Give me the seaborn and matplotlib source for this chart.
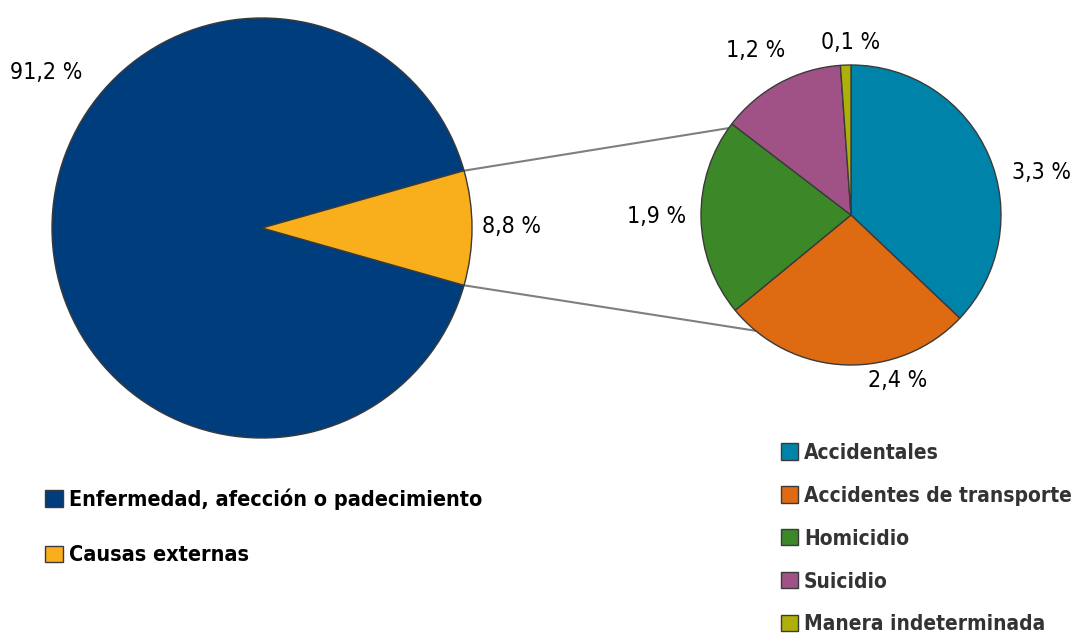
import numpy as np
import seaborn as sns
import matplotlib.pyplot as plt
from matplotlib import font_manager as fm

# datos
causas = ['Enfermedad, afección o padecimiento', 'Causas externas']
causas_valores = [91.2, 8.8]
causas_colores = ['#003D7C', '#F9AE1B']

externas = ['Accidentales', 'Accidentes de transporte', 'Homicidio', 'Suicidio', 'Manera indeterminada']
externas_valores = [3.3, 2.4, 1.9, 1.2, 0.1]
externas_colores = ['#0083A8', '#DE6A12', '#3C8728', '#A05286', '#AFAF0A']

sns.set_theme(style='white')

# buscar una fuente estrecha si la hay
estrechas = [f for f in fm.fontManager.ttflist
             if 'narrow' in f.name.lower() or 'condensed' in f.name.lower()
             or str(f.stretch).lower() in ('condensed', 'semi-condensed')]
if estrechas:
    fuente = estrechas[0].name
    estiramiento = estrechas[0].stretch
else:
    fuente = 'Roboto'
    estiramiento = 'normal'
plt.rcParams['font.family'] = [fuente, 'DejaVu Sans']
plt.rcParams['font.stretch'] = estiramiento

W, H = 1076, 633
fig = plt.figure(figsize=(W / 100, H / 100), dpi=100)
ax = fig.add_axes([0, 0, 1, 1])

edge = dict(edgecolor='#3a3a3a', linewidth=1)

# pastel principal
c1, r1 = (262, H - 228), 210
inicio1 = 360 * causas_valores[1] / 200
w1, _ = ax.pie(causas_valores, colors=causas_colores, center=c1, radius=r1,
               startangle=inicio1, counterclock=True, wedgeprops=edge, frame=True)

# pastel secundario
c2, r2 = (851, H - 215), 150
w2, _ = ax.pie(externas_valores, colors=externas_colores, center=c2, radius=r2,
               startangle=90, counterclock=False, wedgeprops=edge, frame=True)
ax.set_xlim(0, W)
ax.set_ylim(0, H)
ax.set_aspect('equal')
ax.axis('off')

# lineas de conexion
for a1, a2 in [(inicio1, 144.6), (-inicio1, 230.5)]:
    p1 = (c1[0] + r1 * np.cos(np.radians(a1)), c1[1] + r1 * np.sin(np.radians(a1)))
    p2 = (c2[0] + r2 * np.cos(np.radians(a2)), c2[1] + r2 * np.sin(np.radians(a2)))
    ax.plot([p1[0], p2[0]], [p1[1], p2[1]], color='#7f7f7f', lw=1.5, zorder=0)

# etiquetas
fmt = lambda v: f'{v:.1f}'.replace('.', ',') + ' %'
pos1 = [(46, 72), (511, 226)]
for v, (x, y) in zip(causas_valores, pos1):
    ax.text(x, H - y, fmt(v), fontsize=16.6, ha='center', va='center', color='black')
pos2 = [(1042, 173), (898, 381), (657, 217), (756, 50), (851, 42)]
for v, (x, y) in zip(externas_valores, pos2):
    ax.text(x, H - y, fmt(v), fontsize=16.6, ha='center', va='center', color='black')

# leyendas
leg1 = ax.legend(w1, causas, loc='upper left', bbox_to_anchor=(26 / W, 1 - 469 / H),
                 frameon=False, handlelength=0.8, handleheight=0.8, handletextpad=0.3,
                 labelspacing=1.65, prop={'size': 15.5, 'weight': 'bold'})
for t in leg1.get_texts():
    t.set_color('black')
ax.add_artist(leg1)
leg2 = ax.legend(w2, externas, loc='upper left', bbox_to_anchor=(762 / W, 1 - 424 / H),
                 frameon=False, handlelength=0.82, handleheight=0.82, handletextpad=0.3,
                 labelspacing=1.1, prop={'size': 15, 'weight': 'bold'})
for t in leg2.get_texts():
    t.set_color('#333333')

fig.savefig('out.png', dpi=100)
